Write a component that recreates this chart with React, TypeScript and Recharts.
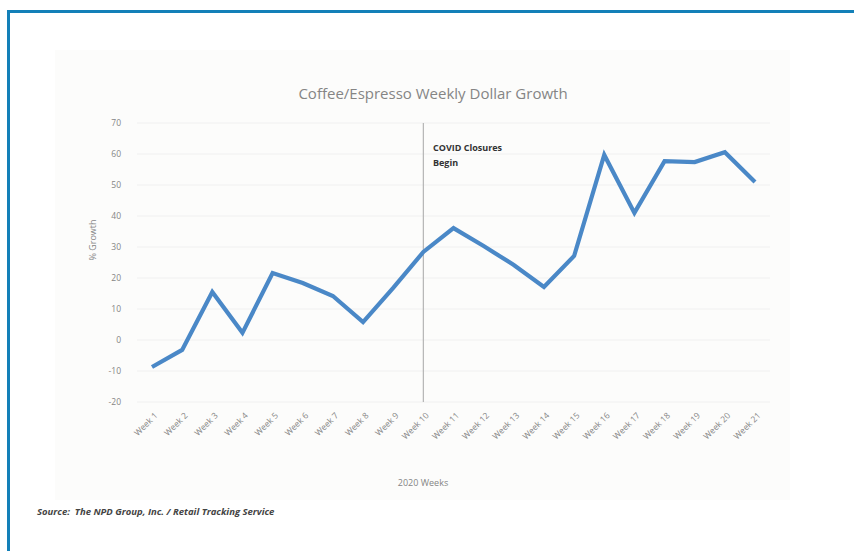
import React from "react";
import { LineChart, Line, XAxis, YAxis, CartesianGrid, ReferenceLine } from "recharts";

const weeks = [
  "Week 1", "Week 2", "Week 3", "Week 4", "Week 5", "Week 6", "Week 7",
  "Week 8", "Week 9", "Week 10", "Week 11", "Week 12", "Week 13", "Week 14",
  "Week 15", "Week 16", "Week 17", "Week 18", "Week 19", "Week 20", "Week 21",
];
const growth = [
  -8.7, -3.2, 15.5, 2.3, 21.6, 18.4, 14.2, 5.8, 16.8, 28.4, 36.1, 30.3, 24.2,
  17.1, 27.1, 59.7, 41, 57.7, 57.4, 60.6, 51,
];
const yTicks = [-20, -10, 0, 10, 20, 30, 40, 50, 60, 70];
const covidWeek = "Week 10";

const data = weeks.map((w, i) => ({ week: w, growth: growth[i] }));

const FONT = "'Open Sans', 'Liberation Sans', sans-serif";

const XTick = (props: any) => {
  const { x, y, payload } = props;
  return (
    <g transform={`translate(${x + 4},${y + 12})`}>
      <text
        x={0}
        y={0}
        dy="0.35em"
        textAnchor="end"
        transform="rotate(-45)"
        fontSize={8.5}
        fill="#858585"
        fontFamily={FONT}
      >
        {payload.value}
      </text>
    </g>
  );
};

export default function App() {
  return (
    <div
      style={{
        position: "fixed",
        left: 0,
        top: 0,
        width: 854,
        height: 551,
        background: "#fff",
        overflow: "hidden",
      }}
    >
      <svg
        width={854}
        height={551}
        style={{ position: "absolute", left: 0, top: 0 }}
      >
        <path d="M 8.5 551 L 8.5 11.5 L 854 11.5" fill="none" stroke="#1380b8" strokeWidth={3} />
        <rect x={55} y={50} width={735} height={450} fill="#fcfcfb" />
      </svg>
      <div
        style={{
          position: "absolute",
          left: 0,
          top: 83,
          width: 854,
          textAlign: "center",
          fontFamily: FONT,
          fontSize: 15,
          color: "#858585",
          paddingLeft: 6,
        }}
      >
        Coffee/Espresso Weekly Dollar Growth
      </div>
      <div style={{ position: "absolute", left: 0, top: 0 }}>
        <LineChart
          width={854}
          height={551}
          data={data}
          margin={{ top: 123, bottom: 129, left: 107, right: 84 }}
        >
          <CartesianGrid vertical={false} stroke="#f0f0f0" />
          <XAxis
            dataKey="week"
            axisLine={false}
            tickLine={false}
            tickSize={0}
            tickMargin={0}
            interval={0}
            padding={{ left: 15, right: 15 }}
            tick={<XTick />}
            height={20}
          />
          <YAxis
            type="number"
            domain={[-20, 70]}
            ticks={yTicks}
            width={30}
            axisLine={false}
            tickLine={false}
            tickSize={0}
            tickMargin={16}
            tick={{ fontSize: 8.5, fill: "#858585", fontFamily: FONT }}
          />
          <ReferenceLine x={covidWeek} stroke="#b5b5b5" strokeWidth={1.2} />
          <Line
            type="linear"
            dataKey="growth"
            stroke="#4a88c7"
            strokeWidth={4.2}
            dot={false}
            isAnimationActive={false}
          />
        </LineChart>
      </div>
      <div
        style={{
          position: "absolute",
          left: 433,
          top: 140,
          fontFamily: FONT,
          fontSize: 9,
          fontWeight: 700,
          color: "#333",
          lineHeight: "15px",
        }}
      >
        COVID Closures
        <br />
        Begin
      </div>
      <div
        style={{
          position: "absolute",
          left: 92,
          top: 240,
          transform: "translate(-50%, -50%) rotate(-90deg)",
          fontFamily: FONT,
          fontSize: 9,
          color: "#858585",
          whiteSpace: "nowrap",
        }}
      >
        % Growth
      </div>
      <div
        style={{
          position: "absolute",
          left: 0,
          top: 476,
          width: 846,
          textAlign: "center",
          fontFamily: FONT,
          fontSize: 9,
          color: "#858585",
        }}
      >
        2020 Weeks
      </div>
      <div
        style={{
          position: "absolute",
          left: 37,
          top: 505,
          fontFamily: FONT,
          fontSize: 9.5,
          fontStyle: "italic",
          fontWeight: 700,
          color: "#444",
          whiteSpace: "pre",
        }}
      >
        {"Source:  The NPD Group, Inc. / Retail Tracking Service"}
      </div>
    </div>
  );
}
